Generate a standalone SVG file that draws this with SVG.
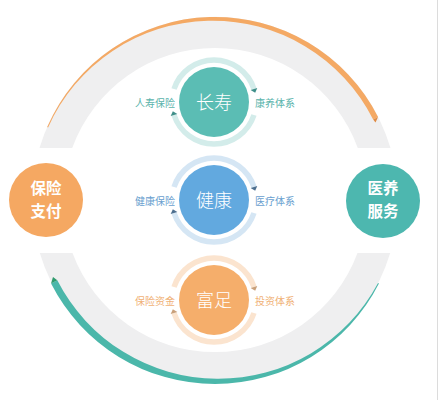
<svg xmlns="http://www.w3.org/2000/svg" width="441" height="400" viewBox="0 0 441 400">
<defs>
<style>
.cjk{font-family:"Noto Sans CJK SC","Noto Sans",sans-serif;}
.big{font-size:15.5px;font-weight:700;fill:#ffffff;text-anchor:middle;}
.core{font-size:18px;font-weight:300;fill:#ffffff;text-anchor:middle;}
.lab{font-size:10px;}
.ring{fill:none;stroke-width:5.5;}
</style>
</defs>
<rect x="0" y="0" width="441" height="400" fill="#ffffff"/>
<line x1="437.5" y1="0" x2="437.5" y2="400" stroke="#dcdcdc" stroke-width="1"/>
<g id="connectors">
<path d="M39.5,148 A183,183 0 0 1 390.5,148 L357.8,148 A152,152 0 0 0 72.2,148 Z" fill="#efeff0"/>
<path d="M39.8,253 A183,183 0 0 0 390.2,253 L357.5,253 A152,152 0 0 1 72.5,253 Z" fill="#efeff0"/>
<path d="M47.17,127.03 A183,183 0 0 1 378.06,116.92 L373.15,119.41 A180,180 0 0 0 48.09,127.43 Z" fill="#f4a964"/>
<path d="M373.15,119.41 L378.06,116.92 L375.5,122.5 Z" fill="#e08c45"/>
<path d="M51.06,283.54 A184,184 0 0 0 378.94,283.54 L378.05,283.08 A181,181 0 0 1 57.29,280.36 Z" fill="#4bb7aa"/>
<path d="M51.06,283.54 L57.29,280.36 L53,277 Z" fill="#2f9a6c"/>
</g>
<g id="node-baoxian">
<circle cx="46" cy="200" r="37" fill="#f5a862"/>
<text class="cjk big" x="46" y="194">保险</text>
<text class="cjk big" x="46" y="216.5">支付</text>
</g>
<g id="node-yiyang">
<circle cx="383" cy="201" r="37" fill="#4db7af"/>
<text class="cjk big" x="383" y="194">医养</text>
<text class="cjk big" x="383" y="216.5">服务</text>
</g>
<g id="node-changshou" transform="translate(214,102)">
<path class="ring" stroke="#d3ecea" d="M-39.95,-12.98 A42,42 0 0 1 39.95,-12.98"/>
<path class="ring" stroke="#d3ecea" d="M39.95,12.98 A42,42 0 0 1 -39.95,12.98"/>
<polygon points="43.28,-14.06 36.62,-11.9 41.19,-9.18" fill="#3f8f89"/>
<polygon points="-36.62,11.9 -43.28,14.06 -41.19,9.18" fill="#3f8f89"/>
<circle cx="0" cy="0" r="35" fill="#5bbdb4"/>
<text class="cjk core" x="0" y="6.5">长寿</text>
<text class="cjk lab" x="-39" y="4.5" text-anchor="end" fill="#5ab3ab">人寿保险</text>
<text class="cjk lab" x="41" y="4.5" fill="#5ab3ab">康养体系</text>
</g>
<g id="node-jiankang" transform="translate(214,200)">
<path class="ring" stroke="#d5e6f4" d="M-39.95,-12.98 A42,42 0 0 1 39.95,-12.98"/>
<path class="ring" stroke="#d5e6f4" d="M39.95,12.98 A42,42 0 0 1 -39.95,12.98"/>
<polygon points="43.28,-14.06 36.62,-11.9 41.19,-9.18" fill="#4d6f8f"/>
<polygon points="-36.62,11.9 -43.28,14.06 -41.19,9.18" fill="#4d6f8f"/>
<circle cx="0" cy="0" r="35" fill="#62a9df"/>
<text class="cjk core" x="0" y="6.5">健康</text>
<text class="cjk lab" x="-39" y="4.5" text-anchor="end" fill="#6a9fcf">健康保险</text>
<text class="cjk lab" x="41" y="4.5" fill="#6a9fcf">医疗体系</text>
</g>
<g id="node-fuzu" transform="translate(214,300)">
<path class="ring" stroke="#fbe4cf" d="M-39.95,-12.98 A42,42 0 0 1 39.95,-12.98"/>
<path class="ring" stroke="#fbe4cf" d="M39.95,12.98 A42,42 0 0 1 -39.95,12.98"/>
<polygon points="43.28,-14.06 36.62,-11.9 41.19,-9.18" fill="#c9a07a"/>
<polygon points="-36.62,11.9 -43.28,14.06 -41.19,9.18" fill="#c9a07a"/>
<circle cx="0" cy="0" r="35" fill="#f5ae6b"/>
<text class="cjk core" x="0" y="6.5">富足</text>
<text class="cjk lab" x="-39" y="4.5" text-anchor="end" fill="#f0b176">保险资金</text>
<text class="cjk lab" x="41" y="4.5" fill="#f0b176">投资体系</text>
</g>
</svg>
